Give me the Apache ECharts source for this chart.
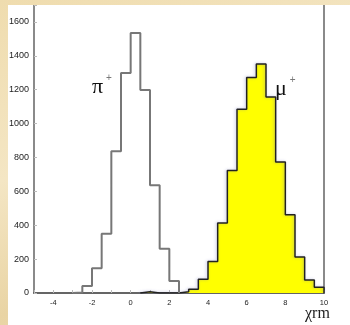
<!DOCTYPE html>
<html>
<head>
<meta charset="utf-8">
<script src="https://cdn.jsdelivr.net/npm/echarts@6/dist/echarts.min.js"></script>
<style>
  html, body { margin: 0; padding: 0; }
  body {
    width: 350px; height: 325px; overflow: hidden; position: relative;
    background: linear-gradient(160deg, #efdcae 0%, #f4e6c4 40%, #e9d4a4 70%, #f1e1bb 100%);
  }
  #chart { position: absolute; left: 8px; top: 5px; width: 342px; height: 320px; background: #fff; }
</style>
</head>
<body>
<div id="chart"></div>
<script>
// bin width 0.5, left edges + counts
const piEdges = [-3, -2.5, -2, -1.5, -1, -0.5, 0, 0.5, 1, 1.5, 2, 2.5];
const piCounts = [3, 41, 146, 350, 837, 1298, 1535, 1199, 636, 261, 71];

const muEdges = [0.5, 1, 1.5, 2, 2.5, 3, 3.5, 4, 4.5, 5, 5.5, 6, 6.5, 7, 7.5, 8, 8.5, 9, 9.5, 10];
const muCounts = [8, 0, 0, 0, 8, 22, 81, 186, 413, 723, 1084, 1272, 1351, 1157, 774, 462, 212, 77, 34];

const xTicks = [-4, -2, 0, 2, 4, 6, 8, 10];
const yTicks = [0, 200, 400, 600, 800, 1000, 1200, 1400, 1600];

// step outline: start at 0, walk the bins, close back to 0
function stepData(edges, counts) {
  const pts = [[edges[0], 0]];
  counts.forEach((c, i) => pts.push([edges[i], c]));
  const last = edges.length - 1;
  pts.push([edges[last], counts[counts.length - 1]]);
  pts.push([edges[last], 0]);
  return pts;
}

const chart = echarts.init(document.getElementById("chart"));
const tickFont = { color: "#222", fontSize: 9, fontFamily: "Liberation Sans" };
const labelRich = {
  b: { fontSize: 22, fontFamily: "Liberation Serif", fill: "#111" },
  s: { fontSize: 10, fontFamily: "Liberation Sans", fill: "#777", verticalAlign: "top", padding: [0, 0, 18, 3] }
};

chart.setOption({
  animation: false,
  grid: { left: 26, right: 26, top: 0, bottom: 32, outerBoundsMode: "none", containLabel: false },
  xAxis: {
    type: "value", min: -5, max: 10, interval: 1,
    axisLine: { onZero: false, lineStyle: { color: "#333", width: 1.5 } },
    axisTick: { inside: true, length: 3, lineStyle: { color: "#bbb" } },
    axisLabel: { ...tickFont, fontSize: 7.5, margin: 6, formatter: v => xTicks.includes(v) ? String(v) : "" },
    splitLine: { show: false }
  },
  yAxis: [{
    type: "value", min: 0, max: 1700, interval: 200,
    axisLine: { show: true, onZero: false, lineStyle: { color: "#8a8a8a", width: 2 } },
    axisTick: { show: true, inside: true, length: 3, lineStyle: { color: "#bbb" } },
    axisLabel: { ...tickFont, margin: 5, formatter: v => yTicks.includes(v) ? String(v) : "" },
    splitLine: { show: false }
  }, {
    type: "value", min: 0, max: 1700, position: "right",
    axisLine: { show: true, onZero: false, lineStyle: { color: "#8a8a8a", width: 2 } },
    axisTick: { show: false }, axisLabel: { show: false }, splitLine: { show: false }
  }],
  series: [{
    type: "line", data: stepData(piEdges, piCounts), step: "end",
    symbol: "none", lineStyle: { color: "#777", width: 2 }, z: 3
  }, {
    type: "line", data: stepData(muEdges, muCounts), step: "end",
    symbol: "none",
    lineStyle: { color: "#222", width: 1.5, shadowColor: "rgba(120,120,190,0.45)", shadowBlur: 3, shadowOffsetX: -1 },
    areaStyle: { color: "#ffff00", opacity: 1 }, z: 2
  }],
  graphic: [{
    type: "text", left: 84, top: 68,
    style: { text: "{b|π}{s|+}", rich: labelRich }
  }, {
    type: "text", left: 267, top: 70,
    style: { text: "{b|μ}{s|+}", rich: labelRich }
  }, {
    type: "text", left: 297, top: 301,
    style: { text: "χrm", fontSize: 16, fontFamily: "Liberation Serif", fill: "#222" }
  }]
});
</script>
</body>
</html>
